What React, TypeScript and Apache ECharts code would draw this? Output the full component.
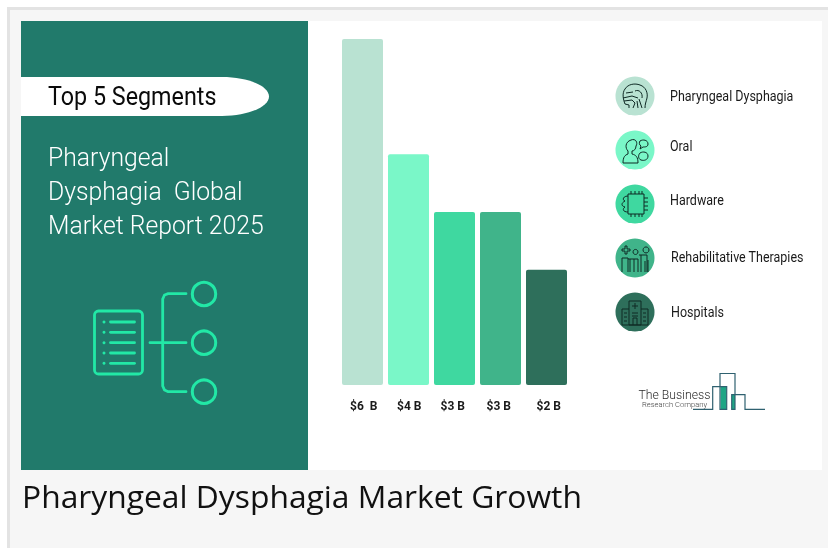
import React, { useEffect, useRef } from "react";
import * as echarts from "echarts";

const categories = ["$6  B", "$4 B", "$3 B", "$3 B", "$2 B"];
const values = [6, 4, 3, 3, 2];
const colors = ["#b9e2d2", "#7af7c8", "#3fd8a0", "#40b48a", "#2e6f5b"];
const segments = ["Pharyngeal Dysphagia", "Oral", "Hardware", "Rehabilitative Therapies", "Hospitals"];
const headingLines = ["Pharyngeal", "Dysphagia  Global", "Market Report 2025"];
const badge = "Top 5 Segments";
const chartTitle = "Pharyngeal Dysphagia Market Growth";
const logoLines = ["The Business", "Research Company"];

const TEAL = "#217a6b";
const NEON = "#22e8a6";
const INK = "#0f2a25";

const pill = "M21 77 H222 C248 77 269 86 269 96.5 C269 107 248 116 222 116 H21 Z";
const icons = [
  "M-10 8 C-12 3 -13 -3 -10 -7 C-7 -12 0 -13 5 -11 C11 -9 13 -3 12 2 C11 6 10 8 10 12 M-6 12 V9 L-10 8 M-12 2 L-3 0 L3 2 M-11 5 L-3 4 L0 7 L-2 12 M0 -5 C4 -7 8 -3 7 2 M4 3 L7 12 M2 5 L3 12 M-9 -3 L-2 -4",
  "M-4 -10 C1 -12 3 -7 1 -4 C1 -1 -1 1 -3 1 L-3 4 C1 5 3 7 3 13 H-12 C-12 7 -10 5 -7 4 L-7 1 C-10 -2 -10 -8 -4 -10 Z M5 -9 C8 -11 13 -10 13 -6 C13 -3 10 -3 8 -3 L5 -1 L6 -4 C4 -5 4 -8 5 -9 Z M5 3 C8 1 13 2 13 6 C13 10 9 11 6 10 C3 9 3 5 5 3 Z",
  "M-7 -10 H9 V10 H-7 Z M-4 -13 V-10 M0 -13 V-10 M4 -13 V-10 M7 -13 V-10 M-4 10 V13 M0 10 V13 M4 10 V13 M7 10 V13 M9 -6 H13 M9 -2 H13 M9 2 H13 M9 6 H13 M-7 -8 C-12 -8 -13 -4 -10 -3 C-14 -1 -14 2 -10 3 C-13 5 -12 8 -7 8",
  "M-13 -9 H-10 V-12 H-8 V-9 H-5 V-7 H-8 V-4 H-10 V-7 H-13 Z M-2 -6 A2.5 2.5 0 1 0 -2 -6.1 M8 -8 A3 3 0 1 0 8 -8.1 M-13 14 V0 H-7 V14 M-7 1 H3 M-5 1 V14 M-1 1 V14 M3 1 V14 M4 -3 H12 V14 M6 -3 V14 M10 3 V14 M13 2 V14",
  "M-6 -11 H6 V13 H-6 Z M-13 -3 H-6 M-13 -3 V13 H13 V-3 H6 M-2 13 V6 H2 V13 M-3 -6 H3 M0 -9 V-3 M-11 1 H-8 M-11 5 H-8 M-11 9 H-8 M8 1 H11 M8 5 H11 M8 9 H11 M-3 1 H3 M-3 4 H3",
];

echarts.graphic.registerShape("pillShape", echarts.graphic.extendPath(pill, {}));
icons.forEach((d, i) => echarts.graphic.registerShape("segIcon" + i, echarts.graphic.extendPath(d, {})));

const labelRich: any = {};
[2.4, 1.6, -3.4, -3.4, 4.4].forEach((o, i) => {
  labelRich["l" + i] = {
    fontFamily: "Roboto",
    fontSize: 12,
    fontWeight: 700,
    color: "#1a1a1a",
    padding: o >= 0 ? [0, 0, 0, o] : [0, -o, 0, 0],
  };
});

export default function App() {
  const ref = useRef<HTMLDivElement>(null);
  useEffect(() => {
    const chart = echarts.init(ref.current!, null, { renderer: "svg" });
    const neonLine = (x1: number, y1: number, x2: number, y2: number, w = 2.8) => ({
      type: "line",
      shape: { x1, y1, x2, y2 },
      style: { stroke: NEON, lineWidth: w, lineCap: "round" },
    });
    const rowY = [96, 150, 204, 258, 312];
    const labelX = [670, 670, 670, 671, 671];
    const labelDy = [0, -3.5, -4, -1, 0];
    const graphic: any[] = [
      { type: "rect", shape: { x: 8.5, y: 8.5, width: 830, height: 550 }, style: { fill: "#f6f6f6", stroke: "#e3e3e3", lineWidth: 3 } },
      { type: "rect", shape: { x: 21, y: 21, width: 801, height: 449 }, style: { fill: "#ffffff" } },
      { type: "rect", shape: { x: 21, y: 21, width: 287, height: 449 }, style: { fill: TEAL } },
      { type: "pillShape", x: 0, y: 0, style: { fill: "#ffffff" } },
      { type: "text", x: 48, y: 96.5, scaleX: 0.933, style: { text: badge, fill: "#0a0a0a", fontFamily: "Roboto", fontSize: 25, fontWeight: 400, verticalAlign: "middle" } },
      ...headingLines.map((t, i) => ({
        type: "text", x: 48, y: 156.8 + i * 34, scaleX: 0.952,
        style: { text: t, fill: "#ffffff", fontFamily: "Roboto", fontSize: 26, fontWeight: 300, verticalAlign: "middle" },
      })),
      { type: "rect", shape: { x: 94.5, y: 311, width: 48, height: 63, r: 4 }, style: { fill: "none", stroke: NEON, lineWidth: 2.8 } },
      ...[322, 332.3, 342.7, 353, 363.3].flatMap((y) => [
        { type: "circle", shape: { cx: 104, cy: y, r: 1.5 }, style: { fill: NEON } },
        neonLine(110.5, y, 134.5, y),
      ]),
      neonLine(150, 342.7, 186, 342.7),
      { type: "polyline", shape: { points: [[186, 293.7], [168, 293.7], [164.5, 295], [162.7, 299], [162.7, 386], [164.5, 390], [168, 391.7], [186, 391.7]] }, style: { fill: "none", stroke: NEON, lineWidth: 2.8, lineCap: "round" } },
      ...[294, 342.7, 391.7].map((cy) => ({ type: "circle", shape: { cx: 204, cy, r: 11.7 }, style: { fill: "none", stroke: NEON, lineWidth: 3 } })),
      ...segments.flatMap((s, i) => [
        { type: "circle", shape: { cx: 635, cy: rowY[i], r: 19.5 }, style: { fill: colors[i] } },
        { type: "segIcon" + i, x: 635, y: rowY[i], style: { fill: "none", stroke: INK, lineWidth: 1 } },
        { type: "text", x: labelX[i], y: rowY[i] + labelDy[i], scaleX: 0.893, style: { text: s, fill: "#1a1a1a", fontFamily: "Roboto", fontSize: 14, verticalAlign: "middle" } },
      ]),
      { type: "text", x: 638.5, y: 394.5, scaleX: 0.94, style: { text: logoLines[0], fill: "#2a2a2a", fontFamily: "Roboto", fontSize: 13, fontWeight: 300, verticalAlign: "middle", lineHeight: 10 } },
      { type: "text", x: 642, y: 404.5, scaleX: 0.95, style: { text: logoLines[1], fill: "#444444", fontFamily: "Roboto", fontSize: 8, fontWeight: 300, verticalAlign: "middle", lineHeight: 8 } },
      { type: "rect", shape: { x: 720.5, y: 387, width: 6, height: 22 }, style: { fill: "#1fa585" } },
      { type: "rect", shape: { x: 732, y: 395, width: 3, height: 14 }, style: { fill: "#1fa585" } },
      { type: "polyline", shape: { points: [[693, 409.3], [712.7, 409.3], [712.7, 386.7], [726.7, 386.7], [726.7, 409.3], [720, 409.3], [720, 373.5], [735, 373.5], [735, 409.3], [731.7, 409.3], [731.7, 394.7], [745, 394.7], [745, 409.3], [765, 409.3]] }, style: { fill: "none", stroke: "#2f6170", lineWidth: 1.2 } },
    ];
    chart.setOption({
      animation: false,
      title: {
        text: chartTitle,
        left: 22,
        top: 479,
        padding: 0,
        textStyle: { fontFamily: "Open Sans", fontSize: 31.8, fontWeight: 400, color: "#111111" },
      },
      grid: { left: 339.5, top: 39, width: 230, height: 346 },
      xAxis: {
        type: "category",
        data: categories,
        axisLine: { show: false },
        axisTick: { show: false },
        axisLabel: {
          margin: 15,
          interval: 0,
          formatter: (v: string, i: number) => `{l${i}|${v}}`,
          rich: labelRich,
        },
      },
      yAxis: { type: "value", min: 0, max: 6, show: false },
      graphic,
      series: [
        {
          type: "bar",
          barWidth: 41,
          data: values.map((v, i) => ({ value: v, itemStyle: { color: colors[i], borderRadius: 2 } })),
        },
      ],
    });
    return () => chart.dispose();
  }, []);
  return <div ref={ref} style={{ position: "fixed", left: 0, top: 0, width: 828, height: 548 }} />;
}
